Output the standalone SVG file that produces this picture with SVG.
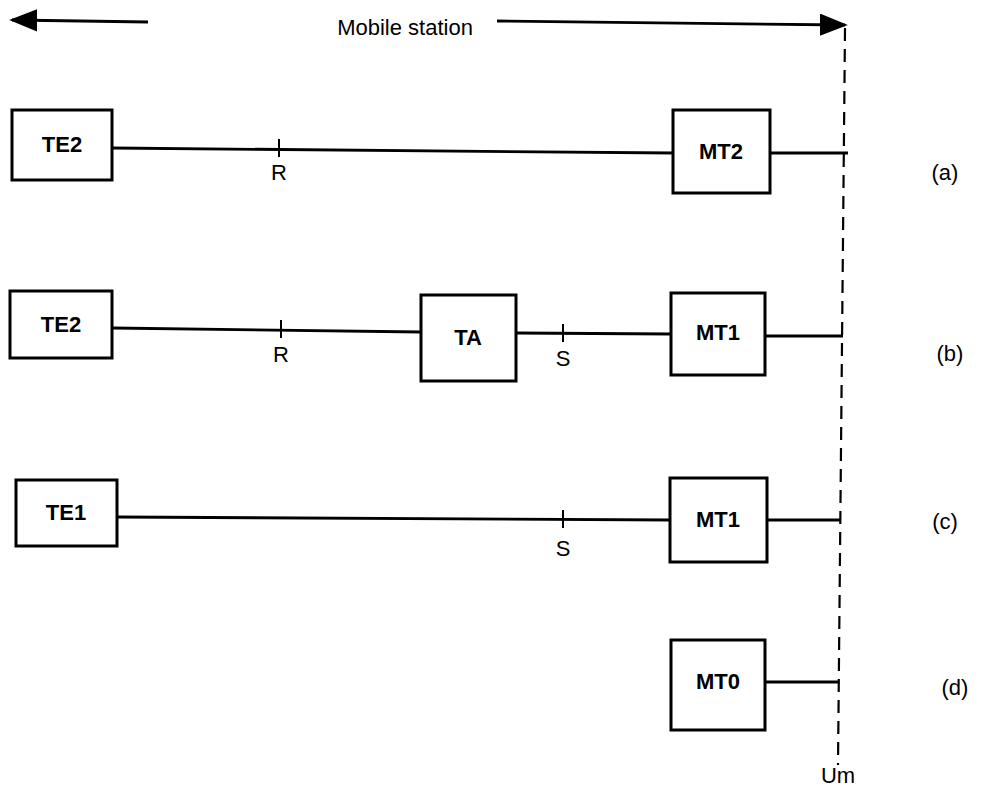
<svg xmlns="http://www.w3.org/2000/svg" width="986" height="794" viewBox="0 0 986 794">
<style>
.box{fill:#fff;stroke:#000;stroke-width:3}
.ln{stroke:#000;stroke-width:2.8;fill:none}
.tk{stroke:#000;stroke-width:2}
.bl{font-family:"Liberation Sans",Arial,sans-serif;font-weight:bold;font-size:22px;text-anchor:middle}
.lb{font-family:"Liberation Sans",Arial,sans-serif;font-size:22px;text-anchor:middle}
</style>
<defs>
<marker id="ah" markerWidth="10" markerHeight="8" refX="9" refY="4" orient="auto" markerUnits="strokeWidth">
<path d="M0,0 L10,4 L0,8 z" fill="#000"/>
</marker>
</defs>
<rect width="986" height="794" fill="#fff"/>
<g id="connectors">
<line class="ln" x1="148" y1="22" x2="12" y2="20" marker-end="url(#ah)" stroke-width="3.5"/>
<line class="ln" x1="497" y1="21" x2="845" y2="25" marker-end="url(#ah)" stroke-width="3.5"/>
<line x1="845" y1="28" x2="838" y2="765" stroke="#000" stroke-width="2.2" stroke-dasharray="13,8"/>
<line class="ln" x1="112" y1="148" x2="673" y2="153"/>
<line class="tk" x1="279" y1="139" x2="279" y2="157"/>
<line class="ln" x1="770" y1="153" x2="848" y2="153"/>
<line class="ln" x1="112" y1="328" x2="421" y2="332"/>
<line class="tk" x1="281" y1="320" x2="281" y2="338"/>
<line class="ln" x1="516" y1="333" x2="671" y2="334"/>
<line class="tk" x1="563" y1="324" x2="563" y2="342"/>
<line class="ln" x1="765" y1="336" x2="843" y2="336"/>
<line class="ln" x1="117" y1="517" x2="670" y2="520"/>
<line class="tk" x1="563" y1="510" x2="563" y2="528"/>
<line class="ln" x1="767" y1="520" x2="840" y2="520"/>
<line class="ln" x1="765" y1="682" x2="838" y2="682"/>
</g>
<text class="lb" x="405" y="35">Mobile station</text>
<g id="te2a"><rect class="box" x="12" y="110" width="100" height="70"/><text class="bl" x="62" y="152">TE2</text></g>
<text class="lb" x="279" y="180">R</text>
<g id="mt2"><rect class="box" x="673" y="110" width="97" height="83"/><text class="bl" x="721" y="159">MT2</text></g>
<text class="lb" x="945" y="180">(a)</text>
<g id="te2b"><rect class="box" x="10" y="291" width="102" height="67"/><text class="bl" x="61" y="332">TE2</text></g>
<text class="lb" x="281" y="362">R</text>
<g id="ta"><rect class="box" x="421" y="295" width="95" height="86"/><text class="bl" x="468" y="345">TA</text></g>
<text class="lb" x="563" y="366">S</text>
<g id="mt1b"><rect class="box" x="671" y="293" width="94" height="82"/><text class="bl" x="718" y="340">MT1</text></g>
<text class="lb" x="950" y="361">(b)</text>
<g id="te1"><rect class="box" x="16" y="480" width="101" height="66"/><text class="bl" x="66" y="520">TE1</text></g>
<text class="lb" x="563" y="556">S</text>
<g id="mt1c"><rect class="box" x="670" y="478" width="97" height="84"/><text class="bl" x="718" y="527">MT1</text></g>
<text class="lb" x="945" y="529">(c)</text>
<g id="mt0"><rect class="box" x="671" y="640" width="94" height="90"/><text class="bl" x="718" y="689">MT0</text></g>
<text class="lb" x="955" y="695">(d)</text>
<text class="lb" x="838" y="783">Um</text>
</svg>
